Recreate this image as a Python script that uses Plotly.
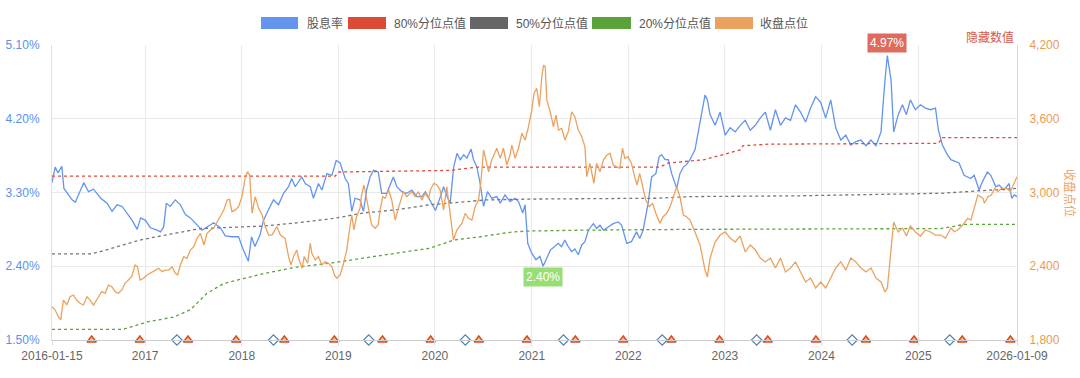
import plotly.graph_objects as go

# ---------------- data ----------------
yield_dates = [
 "2016-01-15","2016-01-27","2016-02-07","2016-02-21","2016-02-29","2016-03-12","2016-03-31","2016-04-12","2016-05-03","2016-05-14",
 "2016-06-01","2016-06-20","2016-07-17","2016-08-10","2016-08-29","2016-09-17","2016-10-06","2016-10-25","2016-11-13","2016-12-02",
 "2016-12-15","2017-01-02","2017-01-21","2017-02-15","2017-02-28","2017-03-12","2017-03-22","2017-04-06","2017-04-25","2017-05-14",
 "2017-06-02","2017-06-21","2017-07-16","2017-08-04","2017-08-23","2017-09-17","2017-10-12","2017-10-31","2017-11-25","2017-12-20",
 "2018-01-07","2018-01-26","2018-02-07","2018-02-20","2018-03-11","2018-03-24","2018-04-12","2018-05-01","2018-05-20","2018-06-08",
 "2018-06-27","2018-07-09","2018-07-22","2018-08-03","2018-08-16","2018-08-29","2018-09-17","2018-09-29","2018-10-18","2018-10-31",
 "2018-11-19","2018-12-08","2018-12-24","2019-01-08","2019-01-27","2019-02-08","2019-02-21","2019-03-05","2019-03-24","2019-04-06",
 "2019-04-18","2019-05-01","2019-05-14","2019-06-01","2019-06-14","2019-07-03","2019-07-28","2019-08-10","2019-08-29","2019-09-17",
 "2019-10-06","2019-10-25","2019-11-13","2019-11-26","2019-12-15","2020-01-03","2020-01-22","2020-02-03","2020-02-16","2020-02-28",
 "2020-03-12","2020-03-25","2020-04-06","2020-04-19","2020-05-01","2020-05-17","2020-05-26","2020-06-08","2020-06-20","2020-07-03",
 "2020-07-18","2020-08-03","2020-08-22","2020-09-04","2020-09-22","2020-10-11","2020-10-30","2020-11-12","2020-11-28","2020-12-07",
 "2020-12-17","2021-01-01","2021-01-17","2021-02-01","2021-02-13","2021-02-26","2021-03-13","2021-03-29","2021-04-11","2021-04-24",
 "2021-05-06","2021-05-19","2021-06-01","2021-06-13","2021-06-26","2021-07-09","2021-07-21","2021-08-03","2021-08-22","2021-09-03",
 "2021-09-16","2021-09-29","2021-10-17","2021-11-05","2021-11-24","2021-12-07","2021-12-26","2022-01-13","2022-02-01","2022-02-13",
 "2022-02-26","2022-03-17","2022-03-30","2022-04-15","2022-04-28","2022-05-07","2022-05-20","2022-06-01","2022-06-14","2022-07-03",
 "2022-07-15","2022-07-28","2022-08-09","2022-08-22","2022-09-10","2022-09-29","2022-10-18","2022-10-27","2022-11-06","2022-11-25",
 "2022-12-14","2023-01-02","2023-01-21","2023-02-09","2023-02-28","2023-03-19","2023-04-07","2023-04-26","2023-05-15","2023-06-03",
 "2023-06-22","2023-07-11","2023-07-30","2023-08-18","2023-09-06","2023-09-25","2023-10-14","2023-11-02","2023-11-21","2023-12-10",
 "2023-12-29","2024-01-17","2024-02-05","2024-02-24","2024-03-14","2024-04-02","2024-04-21","2024-05-10","2024-05-29","2024-06-17",
 "2024-07-06","2024-07-25","2024-08-13","2024-08-28","2024-09-06","2024-09-20","2024-09-30","2024-10-17","2024-11-02","2024-11-17",
 "2024-12-02","2024-12-21","2025-01-09","2025-01-28","2025-02-16","2025-03-07","2025-03-18","2025-04-02","2025-04-21","2025-05-04",
 "2025-06-04","2025-06-23","2025-07-18","2025-07-31","2025-08-19","2025-08-31","2025-09-19","2025-10-02","2025-10-21","2025-11-02",
 "2025-11-21","2025-12-10","2025-12-20","2025-12-30","2026-01-09"]
yield_pct = [
 3.42,3.61,3.54,3.62,3.35,3.29,3.21,3.18,3.35,3.42,
 3.31,3.34,3.23,3.17,3.07,3.15,3.13,3.05,2.96,2.85,
 2.99,2.96,2.87,2.84,2.82,2.88,3.17,3.13,3.21,3.15,
 3.03,2.99,2.90,2.84,2.88,2.93,2.87,2.77,2.76,2.76,
 2.60,2.46,2.76,2.64,2.78,2.96,3.09,3.21,3.15,3.29,
 3.37,3.47,3.37,3.43,3.49,3.41,3.37,3.23,3.41,3.33,
 3.53,3.51,3.69,3.66,3.47,3.41,3.07,3.23,3.21,3.07,
 3.33,3.49,3.57,3.55,3.29,3.29,3.49,3.37,3.31,3.29,
 3.33,3.25,3.25,3.31,3.19,3.08,3.25,3.37,3.25,3.17,
 3.61,3.78,3.70,3.76,3.72,3.83,3.70,3.61,3.41,3.13,
 3.31,3.23,3.25,3.17,3.27,3.19,3.23,3.19,3.05,3.15,
 2.68,2.56,2.48,2.52,2.40,2.50,2.60,2.64,2.68,2.64,
 2.72,2.64,2.58,2.61,2.54,2.66,2.70,2.84,2.92,2.86,
 2.90,2.84,2.88,2.92,2.94,2.90,2.68,2.70,2.82,2.74,
 2.84,3.17,3.49,3.53,3.74,3.76,3.70,3.70,3.53,3.35,
 3.53,3.61,3.64,3.70,3.82,4.18,4.49,4.43,4.25,4.12,
 4.28,4.00,4.09,4.04,4.12,4.18,4.06,4.12,4.21,4.28,
 4.06,4.31,4.12,4.21,4.18,4.37,4.28,4.16,4.33,4.47,
 4.40,4.21,4.43,4.09,3.94,4.00,3.88,3.92,3.94,3.87,
 3.94,3.87,4.04,4.67,4.97,4.67,4.04,4.25,4.37,4.25,
 4.43,4.31,4.37,4.33,4.31,4.33,4.06,3.88,3.76,3.70,
 3.66,3.51,3.47,3.51,3.33,3.43,3.55,3.51,3.37,3.39,
 3.33,3.41,3.23,3.27,3.25]

close_dates = [
 "2016-01-15","2016-01-27","2016-02-08","2016-02-17","2016-02-27","2016-03-11","2016-03-23","2016-04-05","2016-04-17","2016-04-30",
 "2016-05-13","2016-05-26","2016-06-07","2016-06-20","2016-07-09","2016-07-21","2016-08-03","2016-08-15","2016-08-28","2016-09-10",
 "2016-09-22","2016-10-05","2016-10-17","2016-10-30","2016-11-11","2016-11-24","2016-12-03","2016-12-13","2016-12-26","2017-01-08",
 "2017-01-21","2017-02-08","2017-02-21","2017-03-06","2017-03-18","2017-03-31","2017-04-13","2017-04-25","2017-05-04","2017-05-14",
 "2017-05-27","2017-06-08","2017-06-21","2017-07-04","2017-07-16","2017-07-29","2017-08-11","2017-08-23","2017-09-05","2017-09-17",
 "2017-09-30","2017-10-12","2017-10-25","2017-11-07","2017-11-16","2017-11-25","2017-12-08","2017-12-20","2018-01-02","2018-01-15",
 "2018-01-23","2018-01-31","2018-02-09","2018-02-21","2018-03-06","2018-03-19","2018-03-31","2018-04-13","2018-04-25","2018-05-14",
 "2018-05-27","2018-06-14","2018-06-27","2018-07-06","2018-07-16","2018-07-28","2018-08-04","2018-08-17","2018-08-25","2018-09-07",
 "2018-09-17","2018-09-23","2018-10-06","2018-10-18","2018-10-31","2018-11-12","2018-11-25","2018-12-08","2018-12-17","2018-12-27",
 "2019-01-08","2019-01-21","2019-02-02","2019-02-12","2019-02-21","2019-03-01","2019-03-11","2019-03-24","2019-03-30","2019-04-08",
 "2019-04-16","2019-04-24","2019-05-07","2019-05-20","2019-06-01","2019-06-08","2019-06-18","2019-06-27","2019-07-10","2019-07-22",
 "2019-08-04","2019-08-16","2019-08-29","2019-09-04","2019-09-17","2019-10-06","2019-10-18","2019-10-31","2019-11-13","2019-11-25",
 "2019-12-08","2019-12-15","2019-12-28","2020-01-09","2020-01-21","2020-02-03","2020-02-15","2020-02-28","2020-03-11","2020-03-24",
 "2020-04-12","2020-04-25","2020-05-07","2020-05-20","2020-06-01","2020-06-14","2020-06-23","2020-07-03","2020-07-13","2020-07-22",
 "2020-08-03","2020-08-22","2020-09-04","2020-09-16","2020-09-29","2020-10-11","2020-10-18","2020-10-30","2020-11-12","2020-11-25",
 "2020-12-07","2020-12-20","2021-01-01","2021-01-10","2021-01-20","2021-01-30","2021-02-08","2021-02-15","2021-02-21","2021-02-27",
 "2021-03-12","2021-03-24","2021-04-03","2021-04-12","2021-04-24","2021-05-07","2021-05-19","2021-06-01","2021-06-13","2021-06-26",
 "2021-07-09","2021-07-21","2021-07-28","2021-08-09","2021-08-24","2021-09-03","2021-09-16","2021-09-29","2021-10-12","2021-10-24",
 "2021-11-05","2021-11-18","2021-11-30","2021-12-10","2021-12-19","2021-12-31","2022-01-13","2022-01-25","2022-02-03","2022-02-13",
 "2022-02-26","2022-03-08","2022-03-21","2022-04-03","2022-04-15","2022-04-30","2022-05-13","2022-05-26","2022-06-08","2022-06-20",
 "2022-07-03","2022-07-15","2022-07-28","2022-08-09","2022-08-22","2022-09-10","2022-09-29","2022-10-18","2022-10-27","2022-11-06",
 "2022-11-25","2022-12-14","2023-01-02","2023-01-21","2023-02-09","2023-02-28","2023-03-19","2023-04-07","2023-04-26","2023-05-15",
 "2023-06-03","2023-06-22","2023-07-11","2023-07-30","2023-08-18","2023-09-06","2023-09-25","2023-10-14","2023-11-02","2023-11-21",
 "2023-12-10","2023-12-29","2024-01-17","2024-02-05","2024-02-24","2024-03-14","2024-04-02","2024-04-21","2024-05-10","2024-05-29",
 "2024-06-17","2024-07-06","2024-07-25","2024-08-13","2024-08-28","2024-09-06","2024-09-20","2024-09-30","2024-10-17","2024-11-02",
 "2024-11-17","2024-12-02","2024-12-21","2025-01-09","2025-01-28","2025-02-16","2025-03-07","2025-03-26","2025-04-14","2025-05-04",
 "2025-05-17","2025-05-30","2025-06-18","2025-07-07","2025-07-19","2025-08-01","2025-08-14","2025-09-02","2025-09-08","2025-09-21",
 "2025-10-04","2025-10-17","2025-10-29","2025-11-11","2025-11-30","2025-12-15","2026-01-09"]
close_pts = [
 2071,2044,1990,1963,2125,2085,2152,2166,2125,2099,
 2085,2152,2125,2085,2152,2193,2180,2247,2234,2193,
 2180,2207,2261,2288,2315,2410,2396,2288,2302,2329,
 2343,2369,2383,2356,2369,2369,2396,2343,2329,2410,
 2478,2465,2532,2559,2627,2668,2573,2668,2695,2709,
 2762,2803,2858,2939,2945,2844,2858,2885,2966,3129,
 3169,3142,2831,2966,2871,2817,2722,2654,2654,2722,
 2654,2627,2478,2410,2478,2532,2465,2383,2478,2424,
 2587,2505,2451,2478,2410,2437,2424,2396,2329,2302,
 2329,2424,2532,2695,2817,2695,2803,2871,2980,3061,
 2966,2858,2736,2709,2736,2858,2966,2953,3020,2939,
 2776,2871,2966,3007,2966,3007,2966,3007,2939,2993,
 2953,3020,3075,3061,3020,2858,3047,2803,2614,2695,
 2749,2831,2790,2776,2884,2939,3088,3346,3264,3169,
 3264,3360,3278,3360,3224,3305,3386,3278,3360,3482,
 3427,3535,3671,3807,3848,3698,3942,4037,4023,3753,
 3657,3535,3630,3508,3522,3427,3495,3657,3617,3508,
 3454,3373,3129,3237,3075,3237,3169,3264,3305,3319,
 3224,3210,3197,3360,3278,3291,3237,3129,3061,3156,
 3047,2939,2885,2912,2831,2749,2803,2831,2885,2966,
 3047,2966,2817,2803,2776,2679,2573,2369,2313,2467,
 2597,2654,2679,2630,2597,2646,2516,2573,2532,2467,
 2435,2467,2386,2467,2353,2386,2435,2353,2272,2304,
 2223,2272,2223,2304,2386,2435,2369,2467,2435,2386,
 2353,2386,2304,2272,2191,2223,2532,2760,2679,2711,
 2646,2727,2679,2646,2695,2679,2654,2654,2630,2711,
 2681,2695,2736,2790,2776,2884,2980,2953,2912,2966,
 2980,3034,3007,3034,3034,3007,3129]

p80_dates = ["2016-01-15","2018-12-20","2019-01-03","2020-02-28","2020-06-08","2022-04-30","2022-06-01",
             "2022-10-15","2023-02-28","2023-03-10","2023-06-15","2024-06-01","2025-03-18","2025-04-02","2026-01-09"]
p80_pct = [3.50,3.50,3.55,3.57,3.61,3.61,3.66,3.70,3.82,3.87,3.89,3.90,3.90,3.97,3.97]

p50_dates = ["2016-01-15","2016-06-07","2016-07-17","2016-12-13","2017-04-19","2017-07-29","2017-12-31","2018-03-25",
             "2018-07-28","2018-12-07","2019-04-07","2019-08-10","2019-12-13","2020-04-17","2020-07-14","2020-12-26",
             "2022-04-17","2022-08-22","2023-10-14","2025-03-26","2026-01-09"]
p50_pct = [2.55,2.55,2.58,2.72,2.80,2.86,2.88,2.89,2.93,2.98,3.05,3.09,3.15,3.18,3.21,3.22,3.23,3.25,3.26,3.29,3.35]

p20_dates = ["2016-01-15","2016-10-10","2017-01-08","2017-04-19","2017-06-21","2017-08-23","2017-10-25","2017-12-31",
             "2018-03-25","2018-07-28","2018-12-07","2019-04-07","2019-08-10","2019-12-13","2020-03-12","2020-06-20",
             "2020-10-24","2020-12-26","2021-07-08","2022-08-22","2025-03-26","2025-06-23","2026-01-09"]
p20_pct = [1.63,1.63,1.72,1.78,1.87,2.07,2.19,2.24,2.31,2.39,2.44,2.50,2.56,2.62,2.72,2.76,2.82,2.83,2.84,2.85,2.86,2.91,2.91]

rebalance_dates = ["2016-06-13","2016-12-12","2017-06-12","2017-12-11","2018-06-11","2018-12-17","2019-06-17",
                   "2019-12-16","2020-06-15","2020-12-14","2021-06-15","2021-12-13","2022-06-13","2022-12-12",
                   "2023-06-12","2023-12-11","2024-06-17","2024-12-16","2025-06-16","2025-12-15"]
report_dates = ["2017-05-01","2018-05-01","2019-04-26","2020-04-25","2021-05-01","2022-05-09",
                "2023-05-01","2024-04-26","2025-04-30"]

x_tickvals = ["2016-01-15","2017-01-01","2018-01-01","2019-01-01","2020-01-01","2021-01-01",
              "2022-01-01","2023-01-01","2024-01-01","2025-01-01","2026-01-09"]
x_ticktext = ["2016-01-15","2017","2018","2019","2020","2021","2022","2023","2024","2025","2026-01-09"]
left_ticks = [1.5, 2.4, 3.3, 4.2, 5.1]
right_ticks = [1800, 2400, 3000, 3600, 4200]

legend_names = ["股息率", "80%分位点值", "50%分位点值", "20%分位点值", "收盘点位"]

# ---------------- styling ----------------
C_BLUE = "#6394f0"
C_RED = "#de4a38"
C_GRAY = "#777777"
C_GREEN = "#5aa33a"
C_ORANGE = "#eca25e"
FONT = "Liberation Sans, Noto Sans CJK SC, sans-serif"

W, H = 1080, 378
L, R, T, B = 52, 63, 45, 38
PW, PH = W - L - R, H - T - B

def px(x):
    return (x - L) / PW

def py(y):
    return (H - B - y) / PH

fig = go.Figure()
fig.add_trace(go.Scatter(x=yield_dates, y=yield_pct, mode="lines", name=legend_names[0],
                         line=dict(color=C_BLUE, width=1.3), yaxis="y"))
fig.add_trace(go.Scatter(x=p80_dates, y=p80_pct, mode="lines", name=legend_names[1],
                         line=dict(color=C_RED, width=1.3, dash="dot"), yaxis="y"))
fig.add_trace(go.Scatter(x=p50_dates, y=p50_pct, mode="lines", name=legend_names[2],
                         line=dict(color=C_GRAY, width=1.3, dash="dot"), yaxis="y"))
fig.add_trace(go.Scatter(x=p20_dates, y=p20_pct, mode="lines", name=legend_names[3],
                         line=dict(color=C_GREEN, width=1.3, dash="dot"), yaxis="y"))
fig.add_trace(go.Scatter(x=close_dates, y=close_pts, mode="lines", name=legend_names[4],
                         line=dict(color=C_ORANGE, width=1.3), yaxis="y2"))
fig.add_trace(go.Scatter(x=report_dates, y=[left_ticks[0]] * len(report_dates), mode="markers",
                         marker=dict(symbol="diamond", size=8, color="white",
                                     line=dict(color="#4f81b8", width=1.2)),
                         cliponaxis=False, showlegend=False, yaxis="y"))
fig.add_trace(go.Scatter(x=rebalance_dates, y=[left_ticks[0]] * len(rebalance_dates), mode="markers",
                         marker=dict(symbol="triangle-up", size=8, color="#f5d547",
                                     line=dict(color="#e0452b", width=1.5)),
                         cliponaxis=False, showlegend=False, yaxis="y"))

shapes = []
annotations = []
legend_geom = [(261, 298, 305, C_BLUE), (348, 386, 392, C_RED), (470, 508, 514, "#666666"),
               (592, 631, 637, C_GREEN), (715, 753, 758, C_ORANGE)]
for name, (x0, x1, tx, col) in zip(legend_names, legend_geom):
    shapes.append(dict(type="rect", xref="paper", yref="paper", x0=px(x0), x1=px(x1),
                       y0=py(29), y1=py(17), fillcolor=col, line=dict(width=0), layer="above"))
    annotations.append(dict(xref="paper", yref="paper", x=px(tx), y=py(23), text=name,
                            showarrow=False, xanchor="left", yanchor="middle",
                            font=dict(size=12, color="#555555", family=FONT)))

# max / min labels
imax = yield_pct.index(max(yield_pct))
imin = yield_pct.index(min(yield_pct))
annotations.append(dict(x=yield_dates[imax], y=yield_pct[imax], xref="x", yref="y",
                        text=f"{yield_pct[imax]:.2f}%", showarrow=False, yanchor="bottom", yshift=3,
                        bgcolor="#e06a5b", borderpad=2, font=dict(size=12, color="white", family=FONT)))
annotations.append(dict(x=yield_dates[imin], y=yield_pct[imin], xref="x", yref="y",
                        text=f"{yield_pct[imin]:.2f}%", showarrow=False, yanchor="top", yshift=-1,
                        bgcolor="#98de73", borderpad=2, font=dict(size=12, color="white", family=FONT)))

annotations.append(dict(xref="paper", yref="paper", x=px(1016), y=py(38), text="隐藏数值",
                        showarrow=False, xanchor="right", yanchor="middle",
                        font=dict(size=12, color="#d8584c", family=FONT)))
annotations.append(dict(xref="paper", yref="paper", x=px(1070), y=py(193), text="收盘点位",
                        showarrow=False, textangle=90, xanchor="center", yanchor="middle",
                        font=dict(size=12, color=C_ORANGE, family=FONT)))

fig.update_layout(
    width=W, height=H, margin=dict(l=L, r=R, t=T, b=B, autoexpand=False),
    paper_bgcolor="white", plot_bgcolor="white", showlegend=False,
    font=dict(family=FONT, size=12),
    shapes=shapes, annotations=annotations,
    xaxis=dict(type="date", range=["2016-01-15", "2026-01-09"], tickvals=x_tickvals, ticktext=x_ticktext,
               showgrid=True, gridcolor="#e9e9e9", gridwidth=1, showline=True, linecolor="#cccccc",
               ticks="outside", ticklen=5, tickcolor="#e0e0e0", tickfont=dict(size=12, color="#666666"),
               zeroline=False, mirror=False, automargin=False),
    yaxis=dict(range=[1.5, 5.1], tickmode="array", tickvals=left_ticks,
               ticktext=[f"{v:.2f}%" for v in left_ticks],
               showgrid=True, gridcolor="#e9e9e9", zeroline=False, showline=True, linecolor="#e0e0e0",
               tickfont=dict(size=12, color="#5b8ff0"), ticklabelstandoff=9, automargin=False),
    yaxis2=dict(range=[1800, 4200], tickmode="array", tickvals=right_ticks,
                ticktext=[f"{v:,}" for v in right_ticks], overlaying="y", side="right",
                showgrid=False, zeroline=False, showline=True, linecolor="#d9d9d9",
                tickfont=dict(size=12, color="#eb9a52"), ticklabelstandoff=9, automargin=False),
)

fig.write_html("out.html", config={"displayModeBar": False},
               post_script="document.body.style.margin='0';document.body.style.overflow='hidden';")
